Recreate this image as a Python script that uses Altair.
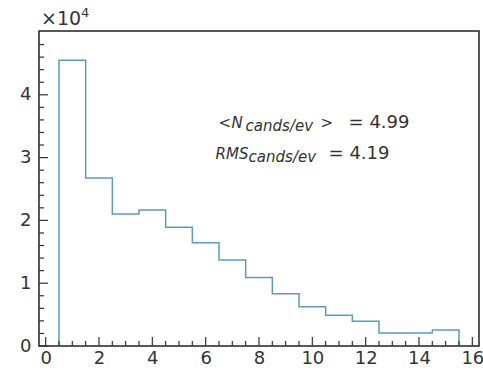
import altair as alt
import pandas as pd

# ---- data ----
bin_left = [0.5, 1.5, 2.5, 3.5, 4.5, 5.5, 6.5, 7.5, 8.5, 9.5, 10.5, 11.5, 12.5, 13.5, 14.5]
counts = [45500, 26750, 21000, 21650, 18900, 16450, 13700, 10900, 8330, 6260, 4890, 3930, 2070, 2070, 2550]
bin_width = 1.0

x_major = [0, 2, 4, 6, 8, 10, 12, 14, 16]
x_minor = [v * 0.5 for v in range(0, 33) if (v * 0.5) % 2 != 0]
y_major = [0, 10000, 20000, 30000, 40000]
y_minor = [v * 2000 for v in range(1, 26) if v % 5 != 0]

mean_label = "4.99"
rms_label = "4.19"

W, H = 440, 315
FONT = "DejaVu Sans"
TXT = "#333333"
LINE = "#5b9bbd"

# step outline vertices of the histogram
xs, ys = [bin_left[0]], [0]
for xl, c in zip(bin_left, counts):
    xs += [xl, xl + bin_width]
    ys += [c, c]
xs.append(bin_left[-1] + bin_width)
ys.append(0)
step_df = pd.DataFrame({"x": xs, "y": ys, "o": list(range(len(xs)))})

xscale = alt.Scale(domain=[-0.25, 16.25], nice=False, zero=False)
yscale = alt.Scale(domain=[0, 50160], nice=False, zero=False)

xaxis = alt.Axis(values=x_major, title=None, grid=False, ticks=False, domain=False,
                 labelFont=FONT, labelFontSize=18, labelColor=TXT, labelPadding=3,
                 labelFlush=False)
yaxis = alt.Axis(values=y_major, title=None, grid=False, ticks=False, domain=False,
                 labelFont=FONT, labelFontSize=18, labelColor=TXT, labelPadding=8,
                 labelExpr="format(datum.value/10000, 'd')")

step = alt.Chart(step_df).mark_line(color=LINE, strokeWidth=1.5).encode(
    x=alt.X("x:Q", scale=xscale, axis=xaxis),
    y=alt.Y("y:Q", scale=yscale, axis=yaxis),
    order="o:Q",
)

def xticks(vals, length):
    return alt.Chart(pd.DataFrame({"v": vals})).mark_rule(color=TXT, strokeWidth=1.2).encode(
        x=alt.X("v:Q", scale=xscale),
        y=alt.value(H), y2=alt.value(H - length),
    )

def yticks(vals, length):
    return alt.Chart(pd.DataFrame({"v": vals})).mark_rule(color=TXT, strokeWidth=1.2).encode(
        y=alt.Y("v:Q", scale=yscale),
        x=alt.value(0), x2=alt.value(length),
    )

ann_x = 6.56
line1_y = 34700
line2_y = 29800

def piece(text, y, dx, size, style="normal", dy=0):
    return alt.Chart(pd.DataFrame({"x": [ann_x], "y": [y], "t": [text]})).mark_text(
        align="left", baseline="alphabetic", font=FONT, fontSize=size, fontStyle=style,
        color=TXT, dx=dx, dy=dy,
    ).encode(
        x=alt.X("x:Q", scale=xscale),
        y=alt.Y("y:Q", scale=yscale),
        text="t:N",
    )

ann = [
    piece("<", line1_y, -2, 15),
    piece("N", line1_y, 11, 15, "italic"),
    piece("cands/ev", line1_y, 25, 15, "italic", dy=3),
    piece(">", line1_y, 100, 15),
    piece("= " + mean_label, line1_y, 128, 18),
    piece("RMS", line2_y, -5, 15, "italic"),
    piece("cands/ev", line2_y, 28, 15, "italic", dy=3),
    piece("= " + rms_label, line2_y, 108, 18),
]

mult = alt.Chart(pd.DataFrame({"t": ["×10"]})).mark_text(
    align="left", baseline="alphabetic", font=FONT, fontSize=19, color=TXT
).encode(x=alt.value(2), y=alt.value(-6), text="t:N")
mult_exp = alt.Chart(pd.DataFrame({"t": ["4"]})).mark_text(
    align="left", baseline="alphabetic", font=FONT, fontSize=13, color=TXT
).encode(x=alt.value(42), y=alt.value(-14), text="t:N")

chart = alt.layer(
    step,
    xticks(x_major, 9), xticks(x_minor, 5),
    yticks(y_major, 9), yticks(y_minor, 5),
    *ann, mult, mult_exp,
).properties(
    width=W, height=H,
    padding={"left": 39, "top": 31, "right": 4, "bottom": 29},
    autosize=alt.AutoSizeParams(type="none"),
    background="white",
).configure_view(
    stroke="#222222", strokeWidth=1.5
)

chart.save("out.html", embed_options={"renderer": "svg", "actions": False})
